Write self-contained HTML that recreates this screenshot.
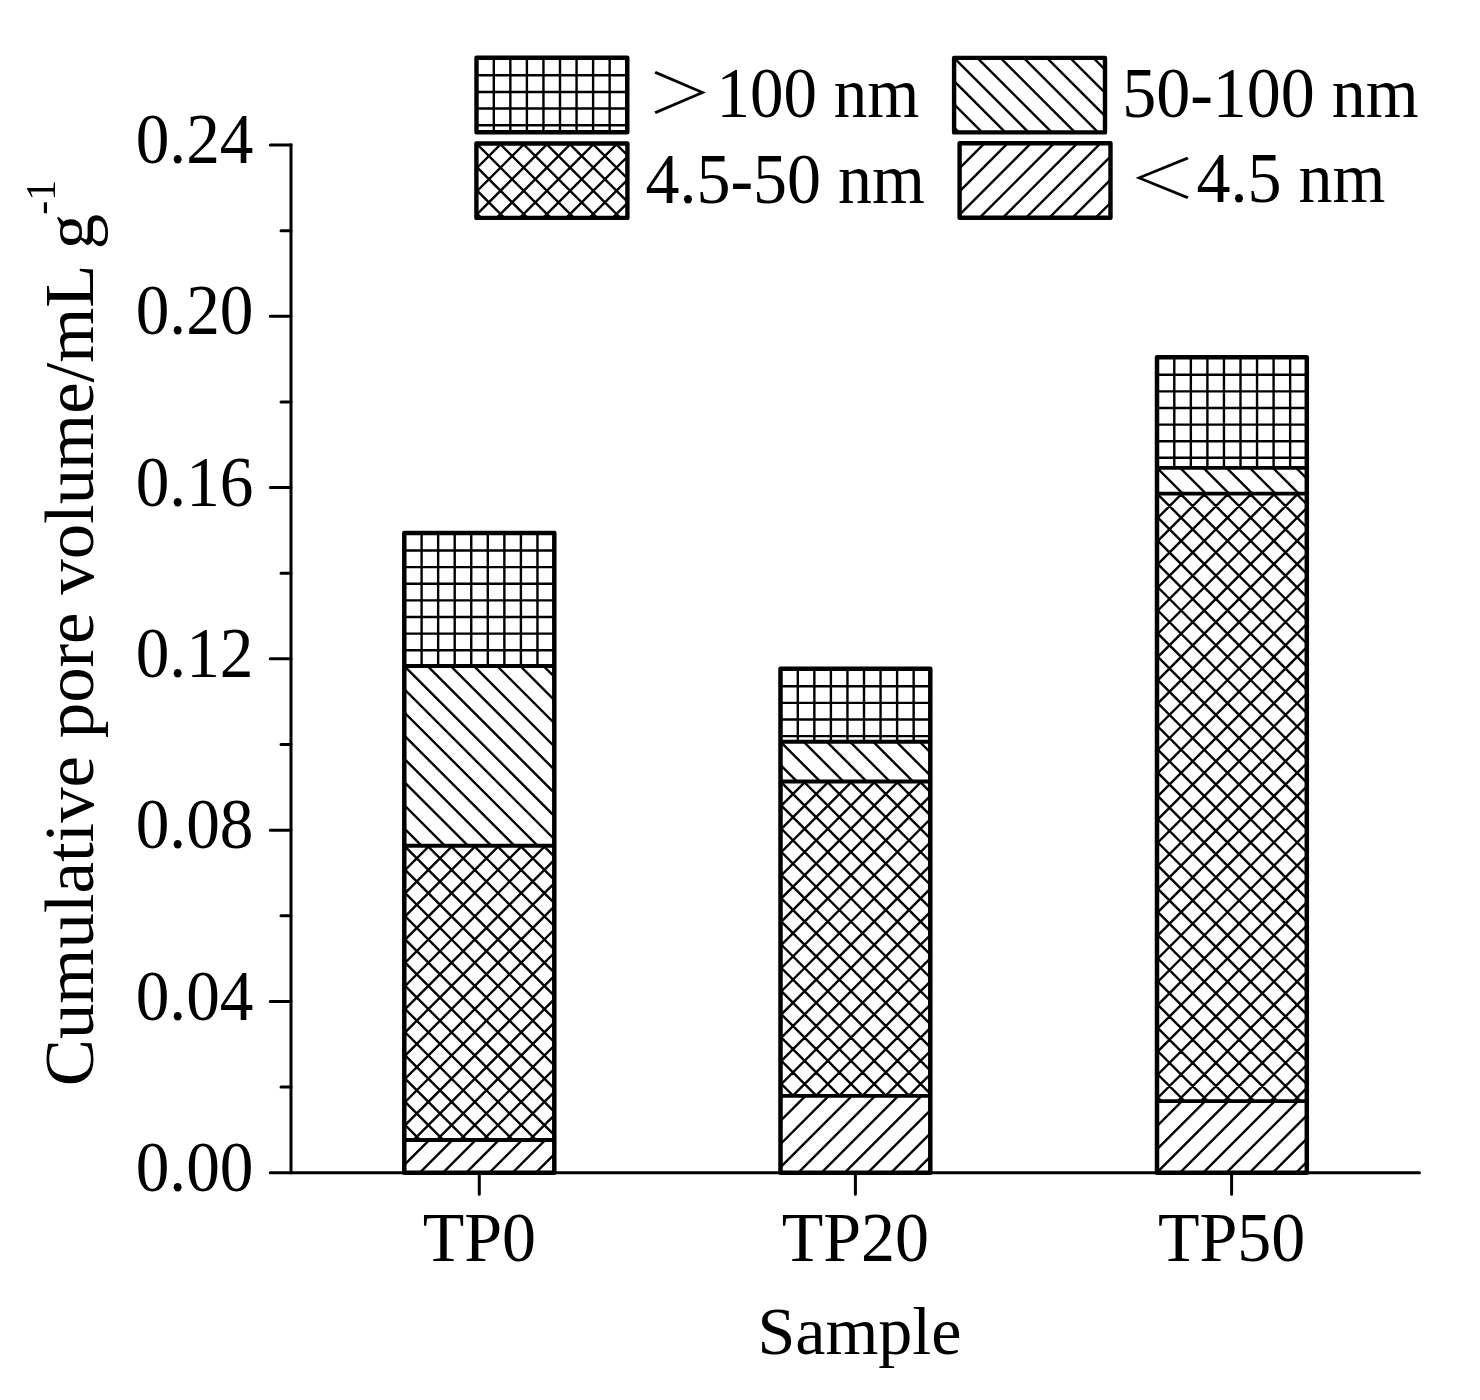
<!DOCTYPE html>
<html><head><meta charset="utf-8"><title>Cumulative pore volume</title>
<style>html,body{margin:0;padding:0;background:#fff}svg{display:block}</style></head>
<body><svg width="1480" height="1400" viewBox="0 0 1480 1400">
<defs><clipPath id="c1"><rect x="404.3" y="1140" width="150" height="32.7"/></clipPath>
<clipPath id="c2"><rect x="404.3" y="845.8" width="150" height="294.2"/></clipPath>
<clipPath id="c3"><rect x="404.3" y="666" width="150" height="179.8"/></clipPath>
<clipPath id="c4"><rect x="404.3" y="533" width="150" height="133"/></clipPath>
<clipPath id="c5"><rect x="780.5" y="1095.9" width="149.8" height="76.8"/></clipPath>
<clipPath id="c6"><rect x="780.5" y="781.5" width="149.8" height="314.4"/></clipPath>
<clipPath id="c7"><rect x="780.5" y="741.8" width="149.8" height="39.7"/></clipPath>
<clipPath id="c8"><rect x="780.5" y="668.7" width="149.8" height="73.1"/></clipPath>
<clipPath id="c9"><rect x="1157" y="1101.1" width="149.8" height="71.6"/></clipPath>
<clipPath id="c10"><rect x="1157" y="493.6" width="149.8" height="607.5"/></clipPath>
<clipPath id="c11"><rect x="1157" y="467.9" width="149.8" height="25.7"/></clipPath>
<clipPath id="c12"><rect x="1157" y="357.2" width="149.8" height="110.7"/></clipPath>
<clipPath id="c13"><rect x="476.5" y="57.8" width="150.8" height="74.5"/></clipPath>
<clipPath id="c14"><rect x="954.1" y="57.9" width="150.9" height="74.5"/></clipPath>
<clipPath id="c15"><rect x="476.4" y="143.5" width="151" height="74.4"/></clipPath>
<clipPath id="c16"><rect x="959.6" y="143.2" width="150.9" height="74.6"/></clipPath></defs>
<rect width="1480" height="1400" fill="#fff"/>
<path clip-path="url(#c1)" d="M345.2 1177.7L387.9 1135M368.4 1177.7L411.1 1135M391.6 1177.7L434.3 1135M414.8 1177.7L457.5 1135M438 1177.7L480.7 1135M461.2 1177.7L503.9 1135M484.4 1177.7L527.1 1135M507.6 1177.7L550.3 1135M530.8 1177.7L573.5 1135M554 1177.7L596.7 1135" stroke="#000" stroke-width="2.4" fill="none"/>
<path clip-path="url(#c2)" d="M83.7 1145L387.9 840.8M106.9 1145L411.1 840.8M130.1 1145L434.3 840.8M153.3 1145L457.5 840.8M176.5 1145L480.7 840.8M199.7 1145L503.9 840.8M222.9 1145L527.1 840.8M246.1 1145L550.3 840.8M269.3 1145L573.5 840.8M292.5 1145L596.7 840.8M315.7 1145L619.9 840.8M338.9 1145L643.1 840.8M362.1 1145L666.3 840.8M385.3 1145L689.5 840.8M408.5 1145L712.7 840.8M431.7 1145L735.9 840.8M454.9 1145L759.1 840.8M478.1 1145L782.3 840.8M501.3 1145L805.5 840.8M524.5 1145L828.7 840.8M547.7 1145L851.9 840.8M74.5 840.8L378.7 1145M97.7 840.8L401.9 1145M120.9 840.8L425.1 1145M144.1 840.8L448.3 1145M167.3 840.8L471.5 1145M190.5 840.8L494.7 1145M213.7 840.8L517.9 1145M236.9 840.8L541.1 1145M260.1 840.8L564.3 1145M283.3 840.8L587.5 1145M306.5 840.8L610.7 1145M329.7 840.8L633.9 1145M352.9 840.8L657.1 1145M376.1 840.8L680.3 1145M399.3 840.8L703.5 1145M422.5 840.8L726.7 1145M445.7 840.8L749.9 1145M468.9 840.8L773.1 1145M492.1 840.8L796.3 1145M515.3 840.8L819.5 1145M538.5 840.8L842.7 1145" stroke="#000" stroke-width="2.4" fill="none"/>
<path clip-path="url(#c3)" d="M190.5 661L380.3 850.8M213.7 661L403.5 850.8M236.9 661L426.7 850.8M260.1 661L449.9 850.8M283.3 661L473.1 850.8M306.5 661L496.3 850.8M329.7 661L519.5 850.8M352.9 661L542.7 850.8M376.1 661L565.9 850.8M399.3 661L589.1 850.8M422.5 661L612.3 850.8M445.7 661L635.5 850.8M468.9 661L658.7 850.8M492.1 661L681.9 850.8M515.3 661L705.1 850.8M538.5 661L728.3 850.8" stroke="#000" stroke-width="2.4" fill="none"/>
<path clip-path="url(#c4)" d="M421.6 533V666M438.15 533V666M454.7 533V666M471.25 533V666M487.8 533V666M504.35 533V666M520.9 533V666M537.45 533V666M404.3 550.52H554.3M404.3 567.14H554.3M404.3 583.76H554.3M404.3 600.38H554.3M404.3 617H554.3M404.3 633.62H554.3M404.3 650.24H554.3" stroke="#000" stroke-width="2.4" fill="none"/>
<path d="M404.3 666H554.3M404.3 845.8H554.3M404.3 1140H554.3" stroke="#000" stroke-width="3.9" fill="none"/>
<rect x="404.3" y="533" width="150" height="639.7" fill="none" stroke="#000" stroke-width="4.5" stroke-linejoin="round"/>
<path clip-path="url(#c5)" d="M677.3 1177.7L764.1 1090.9M700.5 1177.7L787.3 1090.9M723.7 1177.7L810.5 1090.9M746.9 1177.7L833.7 1090.9M770.1 1177.7L856.9 1090.9M793.3 1177.7L880.1 1090.9M816.5 1177.7L903.3 1090.9M839.7 1177.7L926.5 1090.9M862.9 1177.7L949.7 1090.9M886.1 1177.7L972.9 1090.9M909.3 1177.7L996.1 1090.9M932.5 1177.7L1019.3 1090.9" stroke="#000" stroke-width="2.4" fill="none"/>
<path clip-path="url(#c6)" d="M439.7 1100.9L764.1 776.5M462.9 1100.9L787.3 776.5M486.1 1100.9L810.5 776.5M509.3 1100.9L833.7 776.5M532.5 1100.9L856.9 776.5M555.7 1100.9L880.1 776.5M578.9 1100.9L903.3 776.5M602.1 1100.9L926.5 776.5M625.3 1100.9L949.7 776.5M648.5 1100.9L972.9 776.5M671.7 1100.9L996.1 776.5M694.9 1100.9L1019.3 776.5M718.1 1100.9L1042.5 776.5M741.3 1100.9L1065.7 776.5M764.5 1100.9L1088.9 776.5M787.7 1100.9L1112.1 776.5M810.9 1100.9L1135.3 776.5M834.1 1100.9L1158.5 776.5M857.3 1100.9L1181.7 776.5M880.5 1100.9L1204.9 776.5M903.7 1100.9L1228.1 776.5M926.9 1100.9L1251.3 776.5M450.7 776.5L775.1 1100.9M473.9 776.5L798.3 1100.9M497.1 776.5L821.5 1100.9M520.3 776.5L844.7 1100.9M543.5 776.5L867.9 1100.9M566.7 776.5L891.1 1100.9M589.9 776.5L914.3 1100.9M613.1 776.5L937.5 1100.9M636.3 776.5L960.7 1100.9M659.5 776.5L983.9 1100.9M682.7 776.5L1007.1 1100.9M705.9 776.5L1030.3 1100.9M729.1 776.5L1053.5 1100.9M752.3 776.5L1076.7 1100.9M775.5 776.5L1099.9 1100.9M798.7 776.5L1123.1 1100.9M821.9 776.5L1146.3 1100.9M845.1 776.5L1169.5 1100.9M868.3 776.5L1192.7 1100.9M891.5 776.5L1215.9 1100.9M914.7 776.5L1239.1 1100.9" stroke="#000" stroke-width="2.4" fill="none"/>
<path clip-path="url(#c7)" d="M705.9 736.8L755.6 786.5M729.1 736.8L778.8 786.5M752.3 736.8L802 786.5M775.5 736.8L825.2 786.5M798.7 736.8L848.4 786.5M821.9 736.8L871.6 786.5M845.1 736.8L894.8 786.5M868.3 736.8L918 786.5M891.5 736.8L941.2 786.5M914.7 736.8L964.4 786.5" stroke="#000" stroke-width="2.4" fill="none"/>
<path clip-path="url(#c8)" d="M797.8 668.7V741.8M814.35 668.7V741.8M830.9 668.7V741.8M847.45 668.7V741.8M864 668.7V741.8M880.55 668.7V741.8M897.1 668.7V741.8M913.65 668.7V741.8M780.5 686.22H930.3M780.5 702.84H930.3M780.5 719.46H930.3M780.5 736.08H930.3" stroke="#000" stroke-width="2.4" fill="none"/>
<path d="M780.5 741.8H930.3M780.5 781.5H930.3M780.5 1095.9H930.3" stroke="#000" stroke-width="3.9" fill="none"/>
<rect x="780.5" y="668.7" width="149.8" height="504" fill="none" stroke="#000" stroke-width="4.5" stroke-linejoin="round"/>
<path clip-path="url(#c9)" d="M1059 1177.7L1140.6 1096.1M1082.2 1177.7L1163.8 1096.1M1105.4 1177.7L1187 1096.1M1128.6 1177.7L1210.2 1096.1M1151.8 1177.7L1233.4 1096.1M1175 1177.7L1256.6 1096.1M1198.2 1177.7L1279.8 1096.1M1221.4 1177.7L1303 1096.1M1244.6 1177.7L1326.2 1096.1M1267.8 1177.7L1349.4 1096.1M1291 1177.7L1372.6 1096.1" stroke="#000" stroke-width="2.4" fill="none"/>
<path clip-path="url(#c10)" d="M523.1 1106.1L1140.6 488.6M546.3 1106.1L1163.8 488.6M569.5 1106.1L1187 488.6M592.7 1106.1L1210.2 488.6M615.9 1106.1L1233.4 488.6M639.1 1106.1L1256.6 488.6M662.3 1106.1L1279.8 488.6M685.5 1106.1L1303 488.6M708.7 1106.1L1326.2 488.6M731.9 1106.1L1349.4 488.6M755.1 1106.1L1372.6 488.6M778.3 1106.1L1395.8 488.6M801.5 1106.1L1419 488.6M824.7 1106.1L1442.2 488.6M847.9 1106.1L1465.4 488.6M871.1 1106.1L1488.6 488.6M894.3 1106.1L1511.8 488.6M917.5 1106.1L1535 488.6M940.7 1106.1L1558.2 488.6M963.9 1106.1L1581.4 488.6M987.1 1106.1L1604.6 488.6M1010.3 1106.1L1627.8 488.6M1033.5 1106.1L1651 488.6M1056.7 1106.1L1674.2 488.6M1079.9 1106.1L1697.4 488.6M1103.1 1106.1L1720.6 488.6M1126.3 1106.1L1743.8 488.6M1149.5 1106.1L1767 488.6M1172.7 1106.1L1790.2 488.6M1195.9 1106.1L1813.4 488.6M1219.1 1106.1L1836.6 488.6M1242.3 1106.1L1859.8 488.6M1265.5 1106.1L1883 488.6M1288.7 1106.1L1906.2 488.6M525.6 488.6L1143.1 1106.1M548.8 488.6L1166.3 1106.1M572 488.6L1189.5 1106.1M595.2 488.6L1212.7 1106.1M618.4 488.6L1235.9 1106.1M641.6 488.6L1259.1 1106.1M664.8 488.6L1282.3 1106.1M688 488.6L1305.5 1106.1M711.2 488.6L1328.7 1106.1M734.4 488.6L1351.9 1106.1M757.6 488.6L1375.1 1106.1M780.8 488.6L1398.3 1106.1M804 488.6L1421.5 1106.1M827.2 488.6L1444.7 1106.1M850.4 488.6L1467.9 1106.1M873.6 488.6L1491.1 1106.1M896.8 488.6L1514.3 1106.1M920 488.6L1537.5 1106.1M943.2 488.6L1560.7 1106.1M966.4 488.6L1583.9 1106.1M989.6 488.6L1607.1 1106.1M1012.8 488.6L1630.3 1106.1M1036 488.6L1653.5 1106.1M1059.2 488.6L1676.7 1106.1M1082.4 488.6L1699.9 1106.1M1105.6 488.6L1723.1 1106.1M1128.8 488.6L1746.3 1106.1M1152 488.6L1769.5 1106.1M1175.2 488.6L1792.7 1106.1M1198.4 488.6L1815.9 1106.1M1221.6 488.6L1839.1 1106.1M1244.8 488.6L1862.3 1106.1M1268 488.6L1885.5 1106.1M1291.2 488.6L1908.7 1106.1" stroke="#000" stroke-width="2.4" fill="none"/>
<path clip-path="url(#c11)" d="M1105.6 462.9L1141.3 498.6M1128.8 462.9L1164.5 498.6M1152 462.9L1187.7 498.6M1175.2 462.9L1210.9 498.6M1198.4 462.9L1234.1 498.6M1221.6 462.9L1257.3 498.6M1244.8 462.9L1280.5 498.6M1268 462.9L1303.7 498.6M1291.2 462.9L1326.9 498.6" stroke="#000" stroke-width="2.4" fill="none"/>
<path clip-path="url(#c12)" d="M1174.3 357.2V467.9M1190.85 357.2V467.9M1207.4 357.2V467.9M1223.95 357.2V467.9M1240.5 357.2V467.9M1257.05 357.2V467.9M1273.6 357.2V467.9M1290.15 357.2V467.9M1157 374.72H1306.8M1157 391.34H1306.8M1157 407.96H1306.8M1157 424.58H1306.8M1157 441.2H1306.8M1157 457.82H1306.8" stroke="#000" stroke-width="2.4" fill="none"/>
<path d="M1157 467.9H1306.8M1157 493.6H1306.8M1157 1101.1H1306.8" stroke="#000" stroke-width="3.9" fill="none"/>
<rect x="1157" y="357.2" width="149.8" height="815.5" fill="none" stroke="#000" stroke-width="4.5" stroke-linejoin="round"/>
<path clip-path="url(#c13)" d="M493.8 57.8V132.3M510.35 57.8V132.3M526.9 57.8V132.3M543.45 57.8V132.3M560 57.8V132.3M576.55 57.8V132.3M593.1 57.8V132.3M609.65 57.8V132.3M626.2 57.8V132.3M476.5 75.32H627.3M476.5 91.94H627.3M476.5 108.56H627.3M476.5 125.18H627.3" stroke="#000" stroke-width="2.4" fill="none"/>
<rect x="476.5" y="57.8" width="150.8" height="74.5" fill="none" stroke="#000" stroke-width="4.4" stroke-linejoin="round"/>
<path clip-path="url(#c14)" d="M856.3 52.9L940.8 137.4M879.5 52.9L964 137.4M902.7 52.9L987.2 137.4M925.9 52.9L1010.4 137.4M949.1 52.9L1033.6 137.4M972.3 52.9L1056.8 137.4M995.5 52.9L1080 137.4M1018.7 52.9L1103.2 137.4M1041.9 52.9L1126.4 137.4M1065.1 52.9L1149.6 137.4M1088.3 52.9L1172.8 137.4" stroke="#000" stroke-width="2.4" fill="none"/>
<rect x="954.1" y="57.9" width="150.9" height="74.5" fill="none" stroke="#000" stroke-width="4.4" stroke-linejoin="round"/>
<path clip-path="url(#c15)" d="M375.6 222.9L460 138.5M398.8 222.9L483.2 138.5M422 222.9L506.4 138.5M445.2 222.9L529.6 138.5M468.4 222.9L552.8 138.5M491.6 222.9L576 138.5M514.8 222.9L599.2 138.5M538 222.9L622.4 138.5M561.2 222.9L645.6 138.5M584.4 222.9L668.8 138.5M607.6 222.9L692 138.5M630.8 222.9L715.2 138.5M378.6 138.5L463 222.9M401.8 138.5L486.2 222.9M425 138.5L509.4 222.9M448.2 138.5L532.6 222.9M471.4 138.5L555.8 222.9M494.6 138.5L579 222.9M517.8 138.5L602.2 222.9M541 138.5L625.4 222.9M564.2 138.5L648.6 222.9M587.4 138.5L671.8 222.9M610.6 138.5L695 222.9" stroke="#000" stroke-width="2.4" fill="none"/>
<rect x="476.4" y="143.5" width="151" height="74.4" fill="none" stroke="#000" stroke-width="4.4" stroke-linejoin="round"/>
<path clip-path="url(#c16)" d="M858.6 222.8L943.2 138.2M881.8 222.8L966.4 138.2M905 222.8L989.6 138.2M928.2 222.8L1012.8 138.2M951.4 222.8L1036 138.2M974.6 222.8L1059.2 138.2M997.8 222.8L1082.4 138.2M1021 222.8L1105.6 138.2M1044.2 222.8L1128.8 138.2M1067.4 222.8L1152 138.2M1090.6 222.8L1175.2 138.2M1113.8 222.8L1198.4 138.2" stroke="#000" stroke-width="2.4" fill="none"/>
<rect x="959.6" y="143.2" width="150.9" height="74.6" fill="none" stroke="#000" stroke-width="4.4" stroke-linejoin="round"/>
<path d="M291 143.5V1174.2" stroke="#000" stroke-width="3" fill="none" stroke-linecap="butt"/>
<path d="M270.5 1172.7H1419.5M270.3 1172.7H291M270.3 1001.417H291M270.3 830.133H291M270.3 658.85H291M270.3 487.567H291M270.3 316.283H291M270.3 145H291M281 1087.058H291M281 915.775H291M281 744.492H291M281 573.208H291M281 401.925H291M281 230.642H291M479.3 1172.7V1194.2M855.4 1172.7V1194.2M1231.6 1172.7V1194.2" stroke="#000" stroke-width="3" fill="none" stroke-linecap="round"/>
<text transform="translate(253.5,1190.9) scale(0.99,1.06)" font-family="Liberation Serif, serif" font-size="68" text-anchor="end">0.00</text>
<text transform="translate(253.5,1019.617) scale(0.99,1.06)" font-family="Liberation Serif, serif" font-size="68" text-anchor="end">0.04</text>
<text transform="translate(253.5,848.333) scale(0.99,1.06)" font-family="Liberation Serif, serif" font-size="68" text-anchor="end">0.08</text>
<text transform="translate(253.5,677.05) scale(0.99,1.06)" font-family="Liberation Serif, serif" font-size="68" text-anchor="end">0.12</text>
<text transform="translate(253.5,505.767) scale(0.99,1.06)" font-family="Liberation Serif, serif" font-size="68" text-anchor="end">0.16</text>
<text transform="translate(253.5,334.483) scale(0.99,1.06)" font-family="Liberation Serif, serif" font-size="68" text-anchor="end">0.20</text>
<text transform="translate(253.5,163.2) scale(0.99,1.06)" font-family="Liberation Serif, serif" font-size="68" text-anchor="end">0.24</text>
<text transform="translate(479.3,1260.7) scale(1,1.035)" font-family="Liberation Serif, serif" font-size="68" text-anchor="middle">TP0</text>
<text transform="translate(855.4,1260.7) scale(1,1.035)" font-family="Liberation Serif, serif" font-size="68" text-anchor="middle">TP20</text>
<text transform="translate(1231.6,1260.7) scale(1,1.035)" font-family="Liberation Serif, serif" font-size="68" text-anchor="middle">TP50</text>
<text transform="translate(859.4,1354)" font-family="Liberation Serif, serif" font-size="68" text-anchor="middle">Sample</text>
<text transform="translate(93,1086.3) rotate(-90)" font-family="Liberation Serif, serif" font-size="70.8">Cumulative pore volume/mL g<tspan font-size="42" dx="-0.8" dy="-37.9">-1</tspan></text>
<text transform="translate(646.5,113.3) scale(1,0.836)" font-family="Liberation Serif, Noto Sans CJK SC, sans-serif" font-size="66.6" font-weight="300">＞</text>
<text transform="translate(716.6,117.1) scale(0.985,1.05)" font-family="Liberation Serif, serif" font-size="68">100 nm</text>
<text transform="translate(1122.2,117.3) scale(1,1.05)" font-family="Liberation Serif, serif" font-size="68">50-100 nm</text>
<text transform="translate(645.4,202.7) scale(1,1.05)" font-family="Liberation Serif, serif" font-size="68">4.5-50 nm</text>
<text transform="translate(1128.6,198.3) scale(1.025,0.82)" font-family="Liberation Serif, Noto Sans CJK SC, sans-serif" font-size="66.6" font-weight="300">＜</text>
<text transform="translate(1196.4,202.4) scale(1,1.05)" font-family="Liberation Serif, serif" font-size="68">4.5 nm</text>
</svg></body></html>
